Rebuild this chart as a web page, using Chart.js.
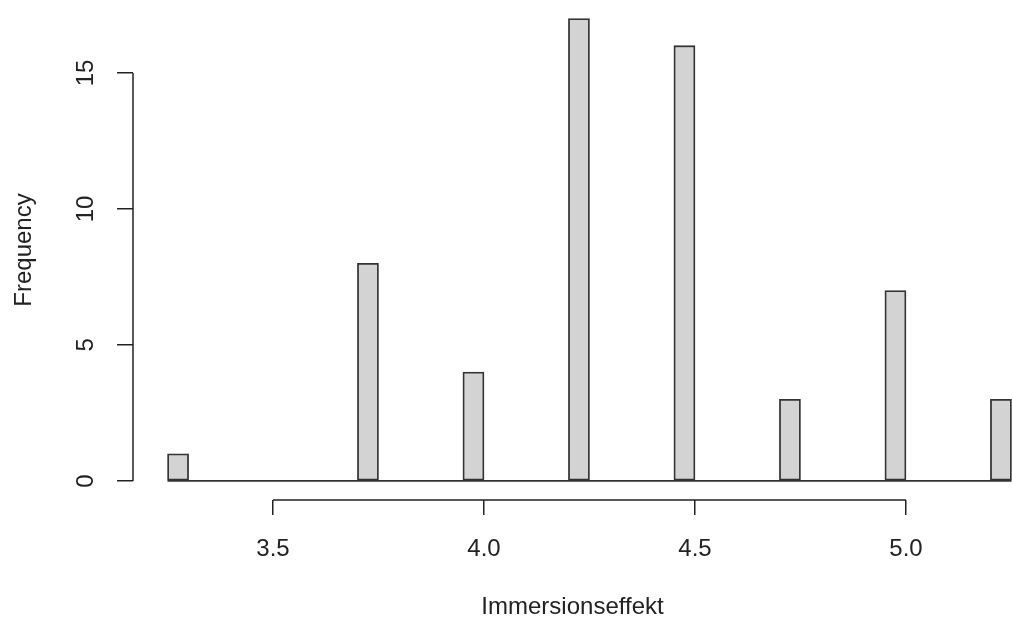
<!DOCTYPE html>
<html>
<head>
<meta charset="utf-8">
<script src="https://cdn.jsdelivr.net/npm/chart.js@4"></script>
<style>
  html, body { margin: 0; padding: 0; background: #fff; }
  #wrap { width: 1012px; height: 628px; }
</style>
</head>
<body>
<div id="wrap"><canvas id="chart" width="1012" height="628"></canvas></div>
<script>
'use strict';

// histogram breaks (width 0.05) and counts per bin
const breaks = [3.25, 3.30, 3.35, 3.40, 3.45, 3.50, 3.55, 3.60, 3.65, 3.70,
                3.75, 3.80, 3.85, 3.90, 3.95, 4.00, 4.05, 4.10, 4.15, 4.20,
                4.25, 4.30, 4.35, 4.40, 4.45, 4.50, 4.55, 4.60, 4.65, 4.70,
                4.75, 4.80, 4.85, 4.90, 4.95, 5.00, 5.05, 5.10, 5.15, 5.20, 5.25]
const counts = [1, 0, 0, 0, 0, 0, 0, 0, 0, 8,
                0, 0, 0, 0, 4, 0, 0, 0, 0, 17,
                0, 0, 0, 0, 16, 0, 0, 0, 0, 3,
                0, 0, 0, 0, 7, 0, 0, 0, 0, 3]
const xTicks = [3.5, 4.0, 4.5, 5.0]
const yTicks = [0, 5, 10, 15]

const FONT = "'Liberation Sans', Arial, Helvetica, sans-serif"
const INK = '#222'

const bins = []
for (let i = 0; i < counts.length; i++) {
    bins.push({ x: (breaks[i] + breaks[i + 1]) / 2, y: counts[i] })
}

// R-style axes: lines only run between the first and last tick,
// plus the flat outline of the empty bins along zero
const rAxes = {
    id: 'rAxes',
    beforeDatasetsDraw(chart) {
        const { ctx, scales: { x, y } } = chart
        ctx.save()
        ctx.strokeStyle = '#333'
        ctx.lineWidth = 1.8
        ctx.beginPath()
        ctx.moveTo(x.getPixelForValue(breaks[0]), y.getPixelForValue(0))
        ctx.lineTo(x.getPixelForValue(breaks[breaks.length - 1]), y.getPixelForValue(0))
        ctx.stroke()
        ctx.restore()
    },
    afterDraw(chart) {
        const { ctx, chartArea, scales: { x, y } } = chart
        ctx.save()
        ctx.strokeStyle = INK
        ctx.lineWidth = 1.5
        ctx.beginPath()
        ctx.moveTo(chartArea.left, y.getPixelForValue(yTicks[0]))
        ctx.lineTo(chartArea.left, y.getPixelForValue(yTicks[yTicks.length - 1]))
        ctx.moveTo(x.getPixelForValue(xTicks[0]), chartArea.bottom)
        ctx.lineTo(x.getPixelForValue(xTicks[xTicks.length - 1]), chartArea.bottom)
        ctx.stroke()
        ctx.restore()
    }
}

const data = {
    datasets: [
        {
            label: 'Immersionseffekt',
            data: bins,
            backgroundColor: '#d3d3d3',
            borderColor: '#333',
            borderWidth: 1.8,
            borderSkipped: false,
            barPercentage: 1,
            categoryPercentage: 1,
        },
    ]
}

const config = {
    type: 'bar',
    data: data,
    plugins: [rAxes],
    options: {
        responsive: false,
        animation: false,
        layout: { padding: 0 },
        plugins: {
            legend: { display: false },
            tooltip: { enabled: false },
        },
        scales: {
            x: {
                type: 'linear',
                offset: false,
                min: 3.1682,
                max: 5.2512,
                afterFit: s => { s.height = 128; s.paddingLeft = 0; s.paddingRight = 0 },
                afterBuildTicks: s => { s.ticks = xTicks.map(v => ({ value: v })) },
                border: { display: false },
                grid: {
                    offset: false,
                    drawOnChartArea: false,
                    drawTicks: true,
                    tickLength: 15,
                    color: INK,
                    lineWidth: 1.5,
                },
                ticks: {
                    padding: 20,
                    color: INK,
                    font: { family: FONT, size: 24 },
                    maxRotation: 0,
                    callback: v => v.toFixed(1),
                },
                title: {
                    display: true,
                    text: 'Immersionseffekt',
                    color: INK,
                    font: { family: FONT, size: 24 },
                    padding: { top: 0, bottom: 6 },
                },
            },
            y: {
                min: -0.7,
                max: 17.68,
                afterFit: s => { s.width = 133; s.paddingTop = 0; s.paddingBottom = 0 },
                afterBuildTicks: s => { s.ticks = yTicks.map(v => ({ value: v })) },
                border: { display: false },
                grid: {
                    drawOnChartArea: false,
                    drawTicks: true,
                    tickLength: 16,
                    color: INK,
                    lineWidth: 1.5,
                },
                ticks: {
                    padding: 17,
                    color: INK,
                    font: { family: FONT, size: 24 },
                    minRotation: 90,
                    maxRotation: 90,
                    crossAlign: 'center',
                },
                title: {
                    display: true,
                    text: 'Frequency',
                    color: INK,
                    font: { family: FONT, size: 24 },
                    padding: { top: 10, bottom: 0 },
                },
            },
        },
    },
}

const resultChart = new Chart(document.getElementById('chart'), config)
</script>
</body>
</html>
